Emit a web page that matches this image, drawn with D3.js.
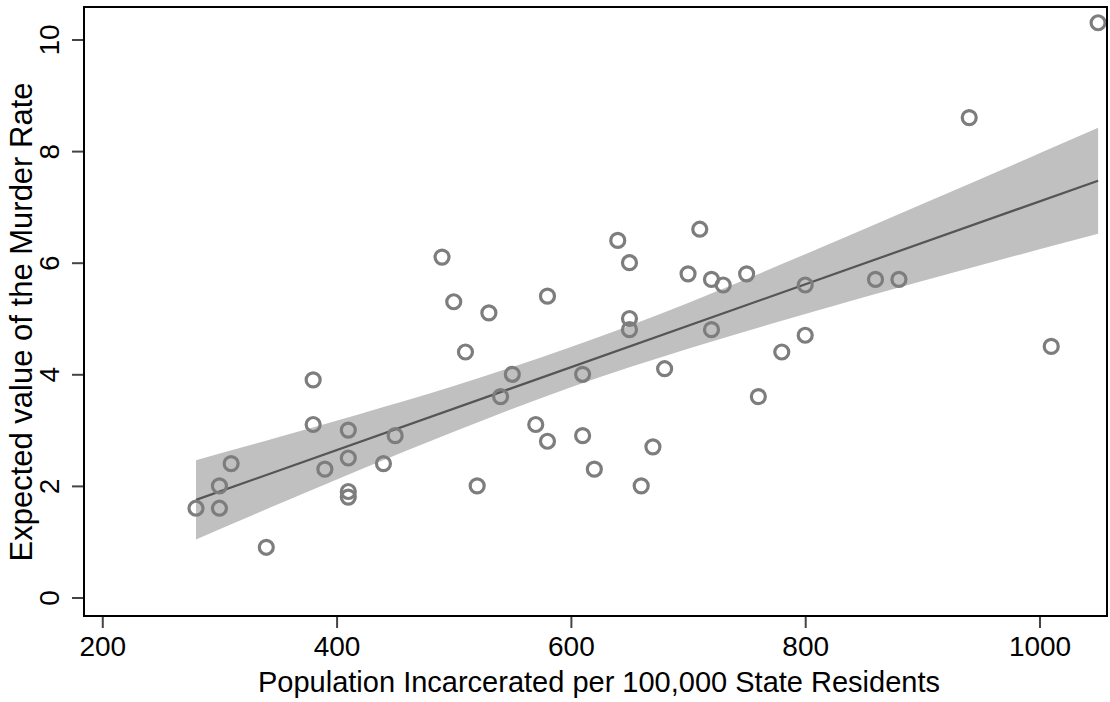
<!DOCTYPE html>
<html>
<head>
<meta charset="utf-8">
<script src="https://cdn.jsdelivr.net/npm/d3@7"></script>
<style>
  html, body { margin: 0; padding: 0; background: #fff; }
  svg { display: block; }
  text { font-family: "Liberation Sans", Arial, Helvetica, sans-serif; fill: #000; }
</style>
</head>
<body>
<script>
// ---- data ----
const incarcerated = [280,300,300,310,340,380,380,390,410,410,410,410,440,450,490,500,510,520,530,540,550,570,580,580,610,610,620,640,650,650,650,660,670,680,700,710,720,720,730,750,760,780,800,800,860,880,940,1010,1050];
const murderRate   = [1.6,2.0,1.6,2.4,0.9,3.9,3.1,2.3,3.0,2.5,1.9,1.8,2.4,2.9,6.1,5.3,4.4,2.0,5.1,3.6,4.0,3.1,5.4,2.8,4.0,2.9,2.3,6.4,6.0,5.0,4.8,2.0,2.7,4.1,5.8,6.6,5.7,4.8,5.6,5.8,3.6,4.4,5.6,4.7,5.7,5.7,8.6,4.5,10.3];

// fitted line endpoints and confidence band
const fitX = [280, 1050];
const fitY = [1.75, 7.47];
const bandX     = [280, 350, 420, 500, 600, 700, 800, 900, 1000, 1050];
const bandLower = [1.04, 1.67, 2.29, 2.97, 3.77, 4.46, 5.08, 5.67, 6.24, 6.52];
const bandUpper = [2.46, 2.87, 3.29, 3.79, 4.49, 5.28, 6.15, 7.05, 7.96, 8.42];

const xTicks = [200, 400, 600, 800, 1000];
const yTicks = [0, 2, 4, 6, 8, 10];
const xTitle = "Population Incarcerated per 100,000 State Residents";
const yTitle = "Expected value of the Murder Rate";

// ---- layout ----
const W = 1110, H = 702;
const frame = { left: 84, right: 1107, top: 7, bottom: 616 };

const svg = d3.select("body").append("svg").attr("width", W).attr("height", H);

const x = d3.scaleLinear().domain([184.4, 1057.6]).range([frame.left, frame.right]);
const y = d3.scaleLinear().domain([0, 10]).range([597.5, 39.5]);

// confidence band
const bandData = bandX.map((v, i) => ({ x: v, lo: bandLower[i], hi: bandUpper[i] }));
svg.append("path")
  .datum(bandData)
  .attr("fill", "#c0c0c0")
  .attr("stroke", "none")
  .attr("d", d3.area()
    .x(d => x(d.x))
    .y0(d => y(d.lo))
    .y1(d => y(d.hi))
    .curve(d3.curveMonotoneX));

// fit line
const fitData = fitX.map((v, i) => ({ x: v, y: fitY[i] }));
svg.append("path")
  .datum(fitData)
  .attr("fill", "none")
  .attr("stroke", "#555")
  .attr("stroke-width", 2.2)
  .attr("d", d3.line().x(d => x(d.x)).y(d => y(d.y)));

// points
const pts = incarcerated.map((v, i) => ({ x: v, y: murderRate[i] }));
svg.append("g").selectAll("circle")
  .data(pts)
  .join("circle")
  .attr("cx", d => x(d.x))
  .attr("cy", d => y(d.y))
  .attr("r", 7)
  .attr("fill", "none")
  .attr("stroke", "#7d7d7d")
  .attr("stroke-width", 3.2);

// frame
svg.append("rect")
  .attr("x", frame.left).attr("y", frame.top)
  .attr("width", frame.right - frame.left)
  .attr("height", frame.bottom - frame.top)
  .attr("fill", "none")
  .attr("stroke", "#000")
  .attr("stroke-width", 2);

// x axis
const xAxis = svg.append("g")
  .attr("transform", `translate(0,${frame.bottom + 1})`)
  .call(d3.axisBottom(x).tickValues(xTicks).tickSize(11).tickPadding(8).tickFormat(d3.format("d")));
xAxis.select(".domain").remove();
xAxis.selectAll(".tick line").attr("stroke", "#444").attr("stroke-width", 2);
xAxis.selectAll(".tick text").style("font-size", "28px").attr("font-family", null);

// y axis
const yAxis = svg.append("g")
  .attr("transform", `translate(${frame.left - 1},0)`)
  .call(d3.axisLeft(y).tickValues(yTicks).tickSize(11).tickFormat(d3.format("d")));
yAxis.select(".domain").remove();
yAxis.selectAll(".tick line").attr("stroke", "#444").attr("stroke-width", 2);
yAxis.selectAll(".tick text")
  .attr("x", null).attr("dy", null)
  .attr("text-anchor", "middle")
  .attr("transform", "translate(-24,0) rotate(-90)")
  .style("font-size", "28px").attr("font-family", null);

// axis titles
svg.append("text")
  .attr("x", 599).attr("y", 692)
  .attr("text-anchor", "middle")
  .style("font-size", "29px")
  .text(xTitle);

svg.append("text")
  .attr("transform", "translate(32,322) rotate(-90)")
  .attr("text-anchor", "middle")
  .style("font-size", "31px")
  .text(yTitle);
</script>
</body>
</html>
